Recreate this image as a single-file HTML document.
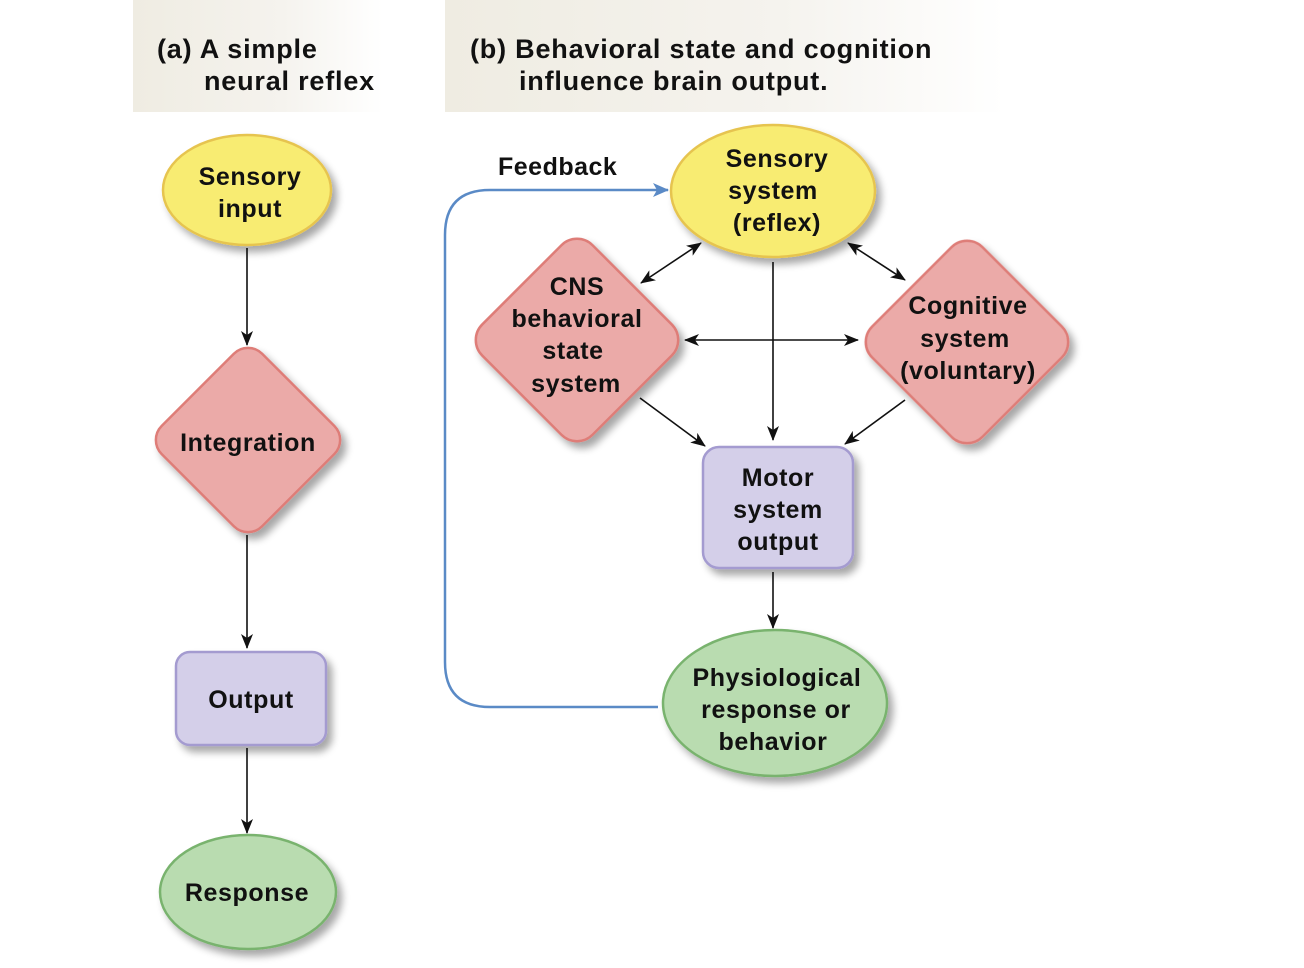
<!DOCTYPE html>
<html><head><style>
body{margin:0;background:#fff;}
svg{display:block;font-family:"Liberation Sans",Arial,sans-serif;font-weight:bold;}
</style></head><body>
<svg width="1304" height="968" viewBox="0 0 1304 968">
<defs>
<linearGradient id="hg" x1="0" x2="1" y1="0" y2="0">
<stop offset="0" stop-color="#efece2"/><stop offset="0.6" stop-color="#f5f3ee"/><stop offset="1" stop-color="#ffffff"/>
</linearGradient>
<filter id="sh" x="-20%" y="-20%" width="150%" height="150%">
<feGaussianBlur in="SourceAlpha" stdDeviation="4"/><feOffset dx="5" dy="6"/>
<feComponentTransfer><feFuncA type="linear" slope="0.35"/></feComponentTransfer>
<feMerge><feMergeNode/><feMergeNode in="SourceGraphic"/></feMerge>
</filter>
<marker id="ar" markerWidth="15" markerHeight="12" refX="14" refY="6" orient="auto-start-reverse" markerUnits="userSpaceOnUse">
<path d="M0,0 L15,6 L0,12 L4,6 Z" fill="#111"/></marker>
<marker id="ab" markerWidth="16" markerHeight="14" refX="15" refY="7" orient="auto" markerUnits="userSpaceOnUse">
<path d="M0,0 L16,7 L0,14 L4,7 Z" fill="#5a8ac6"/></marker>
</defs>
<rect x="133" y="0" width="250" height="112" fill="url(#hg)"/>
<rect x="445" y="0" width="560" height="112" fill="url(#hg)"/>
<text font-size="27" fill="#111" letter-spacing="0.8"><tspan x="157" y="58">(a) A simple</tspan><tspan x="204" y="90">neural reflex</tspan></text>
<text font-size="27" fill="#111" letter-spacing="0.8"><tspan x="470" y="58">(b) Behavioral state and cognition</tspan><tspan x="519" y="90">influence brain output.</tspan></text>

<g stroke="#111" stroke-width="1.6" fill="none">
<line x1="247" y1="248" x2="247" y2="345" marker-end="url(#ar)"/>
<line x1="247" y1="535" x2="247" y2="648" marker-end="url(#ar)"/>
<line x1="247" y1="748" x2="247" y2="833" marker-end="url(#ar)"/>
<line x1="641" y1="283" x2="701" y2="243" marker-start="url(#ar)" marker-end="url(#ar)"/>
<line x1="848" y1="243" x2="905" y2="280" marker-start="url(#ar)" marker-end="url(#ar)"/>
<line x1="773" y1="262" x2="773" y2="440" marker-end="url(#ar)"/>
<line x1="685" y1="340" x2="858" y2="340" marker-start="url(#ar)" marker-end="url(#ar)"/>
<line x1="640" y1="398" x2="705" y2="446" marker-end="url(#ar)"/>
<line x1="905" y1="400" x2="845" y2="444" marker-end="url(#ar)"/>
<line x1="773" y1="572" x2="773" y2="628" marker-end="url(#ar)"/>
</g>
<path d="M658,707 L490,707 Q445,707 445,662 L445,235 Q445,190 490,190 L668,190" fill="none" stroke="#5a8ac6" stroke-width="2.5" marker-end="url(#ab)"/>
<text x="498" y="175" font-size="25" fill="#111" letter-spacing="0.5">Feedback</text>

<g filter="url(#sh)" stroke-width="2.5">
<ellipse cx="247" cy="190" rx="84" ry="55" fill="#f8ec72" stroke="#e6c450"/>
<rect x="177" y="369" width="142" height="142" rx="20" transform="rotate(45 248 440)" fill="#ebaaa8" stroke="#de7d78"/>
<rect x="176" y="652" width="150" height="93" rx="14" fill="#d4cfe9" stroke="#a49bd0"/>
<ellipse cx="248" cy="892" rx="88" ry="57" fill="#b9dcb0" stroke="#79b36e"/>
<ellipse cx="773" cy="191" rx="102" ry="66" fill="#f8ec72" stroke="#e6c450"/>
<rect x="499" y="262" width="156" height="156" rx="22" transform="rotate(45 577 340)" fill="#ebaaa8" stroke="#de7d78"/>
<rect x="889" y="264" width="156" height="156" rx="22" transform="rotate(45 967 342)" fill="#ebaaa8" stroke="#de7d78"/>
<rect x="703" y="447" width="150" height="121" rx="16" fill="#d4cfe9" stroke="#a49bd0"/>
<ellipse cx="775" cy="703" rx="112" ry="73" fill="#b9dcb0" stroke="#79b36e"/>
</g>

<g font-size="25" fill="#111" text-anchor="middle" letter-spacing="0.6">
<text><tspan x="250" y="185">Sensory</tspan><tspan x="250" y="217">input</tspan></text>
<text x="248" y="451">Integration</text>
<text x="251" y="708">Output</text>
<text x="247" y="901">Response</text>
<text><tspan x="777" y="167">Sensory</tspan><tspan x="773" y="199">system</tspan><tspan x="777" y="231">(reflex)</tspan></text>
<text><tspan x="577" y="295">CNS</tspan><tspan x="577" y="327">behavioral</tspan><tspan x="573" y="359">state</tspan><tspan x="576" y="392">system</tspan></text>
<text><tspan x="968" y="314">Cognitive</tspan><tspan x="965" y="347">system</tspan><tspan x="968" y="379">(voluntary)</tspan></text>
<text><tspan x="778" y="486">Motor</tspan><tspan x="778" y="518">system</tspan><tspan x="778" y="550">output</tspan></text>
<text><tspan x="777" y="686">Physiological</tspan><tspan x="776" y="718">response or</tspan><tspan x="773" y="750">behavior</tspan></text>
</g>
</svg>
</body></html>
